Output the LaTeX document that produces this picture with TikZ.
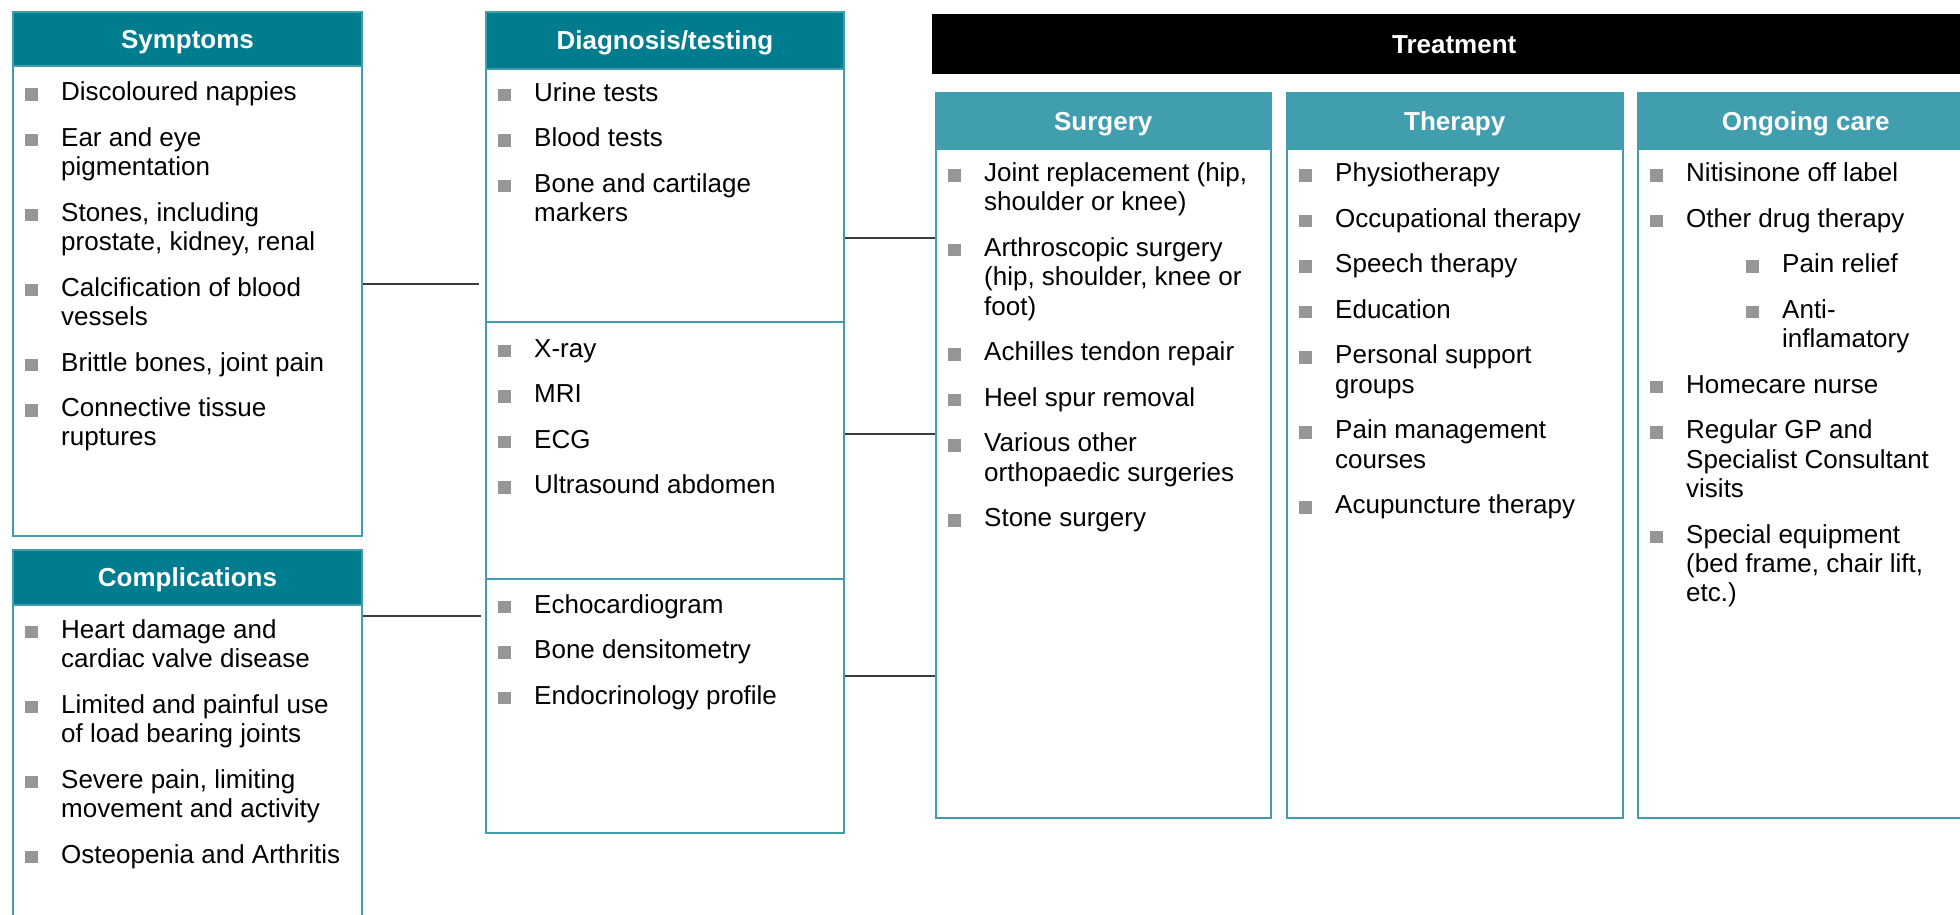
\documentclass[tikz,border=0pt]{standalone}
\usepackage{fontspec}
\setmainfont{Liberation Sans}
\definecolor{hdrdark}{RGB}{0,124,143}
\definecolor{hdrlight}{RGB}{65,158,175}
\definecolor{bord}{RGB}{62,158,176}
\definecolor{bulgray}{RGB}{150,150,150}
\definecolor{conn}{RGB}{60,60,60}
\newcommand\bl[1]{\makebox[36pt][l]{\textcolor{bulgray}{\rule{12.5pt}{12.5pt}}}\vtop{\baselineskip=29.3pt\halign{##\hfil\cr#1\crcr}}}
\begin{document}
\begin{tikzpicture}[x=1pt,y=-1pt,
  panel/.style={draw=bord,line width=2pt,fill=white,inner sep=0pt,anchor=north west},
  tpanel/.style={panel,line width=1.5pt},
  hdr/.style={fill=hdrdark,draw=bord,line width=2pt,anchor=north west,inner sep=0pt,text=white,
    font=\bfseries\fontsize{26}{30}\selectfont,text height=18.6pt,text depth=0pt},
  thdr/.style={hdr,fill=hdrlight,line width=1.5pt},
  itm/.style={anchor=base west,inner sep=0pt,font=\fontsize{26}{29.3}\selectfont},
  link/.style={draw=conn,line width=1.5pt}]
\useasboundingbox (0,0) rectangle (1960,914);
\clip (0,0) rectangle (1960,914);

% Symptoms
\node[panel,minimum width=349pt,minimum height=524pt] (sym) at (12,11) {};
\node[hdr,minimum width=349pt,minimum height=54pt] (symh) at (12,11) {Symptoms};
\node[itm] (s1) at (25,100.7) {\bl{Discoloured nappies}};
\node[itm] (s2) at (25,146.3) {\bl{Ear and eye\cr pigmentation}};
\node[itm] (s3) at (25,221.2) {\bl{Stones, including\cr prostate, kidney, renal}};
\node[itm] (s4) at (25,296.1) {\bl{Calcification of blood\cr vessels}};
\node[itm] (s5) at (25,371.0) {\bl{Brittle bones, joint pain}};
\node[itm] (s6) at (25,416.6) {\bl{Connective tissue\cr ruptures}};

% Complications
\node[panel,minimum width=349pt,minimum height=400pt] (comp) at (12,549) {};
\node[hdr,minimum width=349pt,minimum height=55pt] (comph) at (12,549) {Complications};
\node[itm] (c1) at (25,638.3) {\bl{Heart damage and\cr cardiac valve disease}};
\node[itm] (c2) at (25,713.2) {\bl{Limited and painful use\cr of load bearing joints}};
\node[itm] (c3) at (25,788.1) {\bl{Severe pain, limiting\cr movement and activity}};
\node[itm] (c4) at (25,863.0) {\bl{Osteopenia and Arthritis}};

% Diagnosis/testing
\node[panel,minimum width=358pt,minimum height=253pt] (d1) at (485,68) {};
\node[panel,minimum width=358pt,minimum height=257pt] (d2) at (485,321) {};
\node[panel,minimum width=358pt,minimum height=254pt] (d3) at (485,578) {};
\node[hdr,minimum width=358pt,minimum height=57pt] (dh) at (485,11) {Diagnosis/testing};
\node[itm] (di1) at (498,101.0) {\bl{Urine tests}};
\node[itm] (di2) at (498,146.6) {\bl{Blood tests}};
\node[itm] (di3) at (498,192.2) {\bl{Bone and cartilage\cr markers}};
\node[itm] (di4) at (498,357.0) {\bl{X-ray}};
\node[itm] (di5) at (498,402.6) {\bl{MRI}};
\node[itm] (di6) at (498,448.2) {\bl{ECG}};
\node[itm] (di7) at (498,493.8) {\bl{Ultrasound abdomen}};
\node[itm] (di8) at (498,613.0) {\bl{Echocardiogram}};
\node[itm] (di9) at (498,658.6) {\bl{Bone densitometry}};
\node[itm] (di10) at (498,704.2) {\bl{Endocrinology profile}};

% Treatment
\node[fill=black,anchor=north west,inner sep=0pt,minimum width=1044pt,minimum height=60pt,text=white,
  font=\bfseries\fontsize{26}{30}\selectfont,text height=18.6pt,text depth=0pt] (treat) at (932,14) {Treatment};

% Surgery
\node[tpanel,minimum width=335pt,minimum height=725pt] (surg) at (935,92) {};
\node[thdr,minimum width=335pt,minimum height=56pt] (surgh) at (935,92) {Surgery};
\node[itm] (su1) at (948,181.5) {\bl{Joint replacement (hip,\cr shoulder or knee)}};
\node[itm] (su2) at (948,256.4) {\bl{Arthroscopic surgery\cr (hip, shoulder, knee or\cr foot)}};
\node[itm] (su3) at (948,360.6) {\bl{Achilles tendon repair}};
\node[itm] (su4) at (948,406.2) {\bl{Heel spur removal}};
\node[itm] (su5) at (948,451.8) {\bl{Various other\cr orthopaedic surgeries}};
\node[itm] (su6) at (948,526.7) {\bl{Stone surgery}};

% Therapy
\node[tpanel,minimum width=336pt,minimum height=725pt] (ther) at (1286,92) {};
\node[thdr,minimum width=336pt,minimum height=56pt] (therh) at (1286,92) {Therapy};
\node[itm] (t1) at (1299,181.5) {\bl{Physiotherapy}};
\node[itm] (t2) at (1299,227.1) {\bl{Occupational therapy}};
\node[itm] (t3) at (1299,272.7) {\bl{Speech therapy}};
\node[itm] (t4) at (1299,318.3) {\bl{Education}};
\node[itm] (t5) at (1299,363.9) {\bl{Personal support\cr groups}};
\node[itm] (t6) at (1299,438.8) {\bl{Pain management\cr courses}};
\node[itm] (t7) at (1299,513.7) {\bl{Acupuncture therapy}};

% Ongoing care
\node[tpanel,minimum width=336pt,minimum height=725pt] (ongo) at (1637,92) {};
\node[thdr,minimum width=336pt,minimum height=56pt] (ongoh) at (1637,92) {Ongoing care};
\node[itm] (o1) at (1650,181.5) {\bl{Nitisinone off label}};
\node[itm] (o2) at (1650,227.1) {\bl{Other drug therapy}};
\node[itm] (o3) at (1746,272.7) {\bl{Pain relief}};
\node[itm] (o4) at (1746,318.3) {\bl{Anti-\cr inflamatory}};
\node[itm] (o5) at (1650,393.2) {\bl{Homecare nurse}};
\node[itm] (o6) at (1650,438.8) {\bl{Regular GP and\cr Specialist Consultant\cr visits}};
\node[itm] (o7) at (1650,543.0) {\bl{Special equipment\cr (bed frame, chair lift,\cr etc.)}};

% Connectors
\draw[link,shorten >=6pt] (sym.east |- 0,284) -- (d1.west |- 0,284);
\draw[link,shorten >=4pt] (comp.east |- 0,616) -- (d3.west |- 0,616);
\draw[link] (d1.east |- 0,238) -- (surg.west |- 0,238);
\draw[link] (d2.east |- 0,434) -- (surg.west |- 0,434);
\draw[link] (d3.east |- 0,676) -- (surg.west |- 0,676);
\end{tikzpicture}
\end{document}
